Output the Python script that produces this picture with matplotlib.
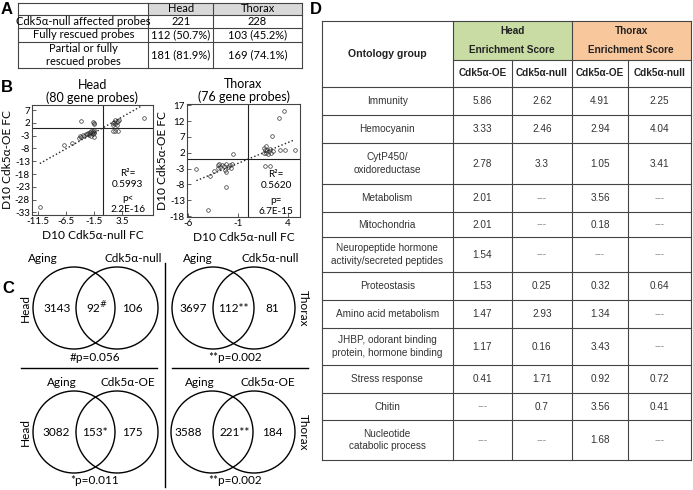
import numpy as np
import matplotlib.pyplot as plt
from matplotlib.patches import Circle, Rectangle

plt.rcParams['font.family'] = ['Lato', 'DejaVu Sans']

# ---- panel A data
a_cols = ['Head', 'Thorax']
a_rows = ['Cdk5α-null affected probes', 'Fully rescued probes', 'Partial or fully\nrescued probes']
a_head = ['221', '112 (50.7%)', '181 (81.9%)']
a_thorax = ['228', '103 (45.2%)', '169 (74.1%)']

# ---- panel B data (D10 fold changes)
head_x = [-3.9, -1.8, -1.5, -1.6,
          -4.0, -3.8, -3.5, -3.3, -3.0, -2.8, -2.6, -2.5, -2.3, -2.2, -2.0, -1.9,
          -1.8, -1.7, -1.6, -1.5, -1.5, -1.6, -2.0, -4.2,
          -6.9, -5.4, -11.2,
          1.8, 2.0, 2.2, 2.3, 2.5, 2.7, 2.9, 2.6, 1.9, 1.8, 2.3, 2.8, 7.4]
head_y = [2.6, 2.2, 1.9, 1.6,
          -3.2, -3.5, -2.8, -3.0, -2.5, -2.2, -1.8, -2.6, -1.5, -2.0, -1.2, -1.8,
          -2.4, -1.0, -1.5, -0.8, -2.0, -3.6, -3.3, -3.8,
          -6.5, -6.0, -31.0,
          2.0, 2.5, 1.5, 3.0, 2.2, 2.8, 3.3, 1.2, 1.0, -1.3, -1.3, -1.3, 3.9]
thorax_x = [3.6, 3.05, 2.4, 1.6, 1.7, 1.8, 1.9, 2.0, 2.1, 2.2, 1.6, 2.3, 1.8, 2.5,
            3.15, 3.65, 4.65, 1.7, 2.15, -1.5,
            -5.2, -3.0, -2.8, -2.6, -2.4, -2.2, -2.0, -1.8, -1.6, -1.7, -3.0, -2.9,
            -2.3, -2.2, -3.8, -3.4, -2.2, -4.0]
thorax_y = [15.2, 13.0, 7.3, 3.6, 2.8, 2.0, 3.0, 1.5, 2.4, 3.2, 1.8, 1.8, 4.1, 2.6,
            2.9, 2.9, 3.0, -2.2, -2.2, 1.6,
            -3.0, -2.0, -2.4, -1.8, -2.2, -1.6, -2.4, -2.0, -1.5, -2.7, -2.8, -1.5,
            -3.5, -4.1, -5.2, -3.9, -8.9, -16.1]
head_fit = (1.24, 0.0)     # slope, intercept
thorax_fit = (1.31, 0.0)
head_xticks = [-11.5, -6.5, -1.5, 3.5]
head_yticks = [7, 2, -3, -8, -13, -18, -23, -28, -33]
thorax_xticks = [-6, -1, 4]
thorax_yticks = [17, 12, 7, 2, -3, -8, -13, -18]
head_stats = ['R²=\n0.5993', 'p<\n2.2E-16']
thorax_stats = ['R²=\n0.5620', 'p=\n6.7E-15']

# ---- panel C data
venn_tissue = ['Head', 'Thorax', 'Head', 'Thorax']
venn_sets = [('Aging', 'Cdk5α-null'), ('Aging', 'Cdk5α-null'),
             ('Aging', 'Cdk5α-OE'), ('Aging', 'Cdk5α-OE')]
venn_counts = [(3143, 92, 106), (3697, 112, 81), (3082, 153, 175), (3588, 221, 184)]
venn_mark = [r'$^{\#}$', '**', '*', '**']
venn_p = ['#p=0.056', '**p=0.002', '*p=0.011', '**p=0.002']

# ---- panel D data
groups = ['Immunity', 'Hemocyanin', 'CytP450/\noxidoreductase', 'Metabolism', 'Mitochondria',
          'Neuropeptide hormone\nactivity/secreted peptides', 'Proteostasis',
          'Amino acid metabolism', 'JHBP, odorant binding\nprotein, hormone binding',
          'Stress response', 'Chitin', 'Nucleotide\ncatabolic process']
head_oe = [5.86, 3.33, 2.78, 2.01, 2.01, 1.54, 1.53, 1.47, 1.17, 0.41, None, None]
head_null = [2.62, 2.46, 3.3, None, None, None, 0.25, 2.93, 0.16, 1.71, 0.7, None]
thorax_oe = [4.91, 2.94, 1.05, 3.56, 0.18, None, 0.32, 1.34, 3.43, 0.92, 3.56, 1.68]
thorax_null = [2.25, 4.04, 3.41, None, None, None, 0.64, None, None, 0.72, 0.41, None]
d_sub = ['Cdk5α-OE', 'Cdk5α-null', 'Cdk5α-OE', 'Cdk5α-null']

W, H = 693, 490
fig = plt.figure(figsize=(W / 100, H / 100), dpi=100)
ov = fig.add_axes([0, 0, 1, 1])
ov.set_xlim(0, W)
ov.set_ylim(H, 0)
ov.axis('off')

lc = '#444444'
arial = ['Liberation Sans', 'DejaVu Sans']

# panel letters
for lab, (x, y) in zip('ABCD', [(7, 9), (7, 88), (8, 288), (316, 9)]):
    ov.text(x, y, lab, fontsize=12, fontweight='bold', family=arial, ha='center', va='center')

# ---------- A: table
ax_cols = [18.3, 148.3, 213.3, 301.7]
ax_rows = [2.7, 15, 28.3, 41.7, 68.3]
ov.add_patch(Rectangle((ax_cols[1], ax_rows[0]), ax_cols[3] - ax_cols[1], ax_rows[1] - ax_rows[0],
                       facecolor='#d9d9d9', edgecolor='none'))
for y in ax_rows:
    ov.plot([ax_cols[0], ax_cols[-1]], [y, y], color=lc, lw=0.8)
for x in ax_cols:
    ov.plot([x, x], [ax_rows[0], ax_rows[-1]], color=lc, lw=0.8)
fs_a = 8
for j, c in enumerate(a_cols):
    ov.text((ax_cols[j + 1] + ax_cols[j + 2]) / 2, (ax_rows[0] + ax_rows[1]) / 2, c,
            fontsize=fs_a, ha='center', va='center')
for i, r in enumerate(a_rows):
    yc = (ax_rows[i + 1] + ax_rows[i + 2]) / 2
    ov.text((ax_cols[0] + ax_cols[1]) / 2, yc, r, fontsize=fs_a, ha='center', va='center',
            linespacing=1.25)
    ov.text((ax_cols[1] + ax_cols[2]) / 2, yc, a_head[i], fontsize=fs_a, ha='center', va='center')
    ov.text((ax_cols[2] + ax_cols[3]) / 2, yc, a_thorax[i], fontsize=fs_a, ha='center', va='center')

# ---------- B: scatter plots
def scatter_panel(box, xs, ys, fit, xlim, ylim, xt, yt, title, stats):
    l, r, t, b = box
    ax = fig.add_axes([l / W, 1 - b / H, (r - l) / W, (b - t) / H])
    ax.plot(xs, ys, 'o', mfc='none', mec='#333333', ms=2.6, mew=0.5)
    xx = np.array([min(xs), max(xs)])
    ax.plot(xx, fit[0] * xx + fit[1], ':', color='#222222', lw=1.0)
    ax.axhline(0, color='#222222', lw=0.8)
    ax.axvline(0, color='#222222', lw=0.8)
    ax.set_xlim(xlim)
    ax.set_ylim(ylim)
    ax.set_xticks(xt)
    ax.set_yticks(yt)
    ax.set_xticklabels([f'{v:g}' for v in xt])
    ax.set_yticklabels([f'{v:g}' for v in yt])
    ax.tick_params(direction='in', length=3, width=0.6, labelsize=7, pad=1.5, color=lc)
    for s in ax.spines.values():
        s.set_color(lc)
        s.set_linewidth(0.8)
    ax.set_title(title, fontsize=9, pad=2, linespacing=1.1)
    ax.set_xlabel('D10 Cdk5α-null FC', fontsize=8.6, labelpad=3)
    ax.set_ylabel('D10 Cdk5α-OE FC', fontsize=8.6, labelpad=1)
    ax.text(0.79, 0.33, stats[0], transform=ax.transAxes, fontsize=7.2, ha='center',
            va='center', linespacing=1.3)
    ax.text(0.79, 0.1, stats[1], transform=ax.transAxes, fontsize=7.2, ha='center',
            va='center', linespacing=1.3)
    return ax

scatter_panel((32, 153, 105, 215), head_x, head_y, head_fit, (-12.6, 9.0), (-34, 9),
              head_xticks, head_yticks, 'Head\n(80 gene probes)', head_stats)
scatter_panel((187, 300, 104, 217), thorax_x, thorax_y, thorax_fit, (-6.15, 5.2), (-18.3, 17.4),
              thorax_xticks, thorax_yticks, 'Thorax\n(76 gene probes)', thorax_stats)

# ---------- C: Venn diagrams
rad = 41
venn_pos = [(74, 117, 308), (213, 254, 308), (74, 117, 432), (212, 254, 432)]
lab_x = [(43, 133), (198, 270), (62, 128), (200, 268)]
lab_y = [258, 258, 382, 382]
num_x = [(57, 97, 132), (193, 233, 272), (56, 95, 132), (188, 235, 272)]
p_x = [95, 235, 95, 235]
p_y = [357, 357, 480, 480]
side_x = [25, 303, 25, 303]
fs_c = 8.5
for k in range(4):
    cl, cr, cy = venn_pos[k]
    ov.add_patch(Circle((cl, cy), rad, fill=False, edgecolor='black', lw=1.0))
    ov.add_patch(Circle((cr, cy), rad, fill=False, edgecolor='black', lw=1.0))
    ov.text(lab_x[k][0], lab_y[k], venn_sets[k][0], fontsize=fs_c, ha='center', va='center')
    ov.text(lab_x[k][1], lab_y[k], venn_sets[k][1], fontsize=fs_c, ha='center', va='center')
    a, both, b = venn_counts[k]
    ov.text(num_x[k][0], cy, str(a), fontsize=fs_c, ha='center', va='center')
    ov.text(num_x[k][1], cy, f'{both}{venn_mark[k]}', fontsize=fs_c, ha='center', va='center')
    ov.text(num_x[k][2], cy, str(b), fontsize=fs_c, ha='center', va='center')
    ov.text(p_x[k], p_y[k], venn_p[k], fontsize=fs_c, ha='center', va='center')
    rot = 90 if venn_tissue[k] == 'Head' else 270
    ov.text(side_x[k], cy, venn_tissue[k], fontsize=fs_c, rotation=rot, ha='center', va='center')
ov.plot([164.5, 164.5], [263, 487], color='black', lw=1.0)
ov.plot([21, 157], [368, 368], color='black', lw=1.0)
ov.plot([172, 308], [368, 368], color='black', lw=1.0)

# ---------- D: enrichment table
dc = [321.7, 452.7, 512, 571.7, 628.3, 690.7]
d_top, d_mid, d_head = 20.7, 60, 87
d_rows = [87, 115, 143, 184, 212, 237, 272, 300, 328, 365, 393, 420, 460]
ov.add_patch(Rectangle((dc[1], d_top), dc[3] - dc[1], d_mid - d_top, facecolor='#c8dca4', edgecolor='none'))
ov.add_patch(Rectangle((dc[3], d_top), dc[5] - dc[3], d_mid - d_top, facecolor='#f9c79c', edgecolor='none'))
for x in [dc[0], dc[1], dc[3], dc[5]]:
    ov.plot([x, x], [d_top, d_rows[-1]], color=lc, lw=0.8)
for x in [dc[2], dc[4]]:
    ov.plot([x, x], [d_mid, d_rows[-1]], color=lc, lw=0.8)
ov.plot([dc[0], dc[5]], [d_top, d_top], color=lc, lw=0.8)
ov.plot([dc[1], dc[5]], [d_mid, d_mid], color=lc, lw=0.8)
for y in d_rows:
    ov.plot([dc[0], dc[5]], [y, y], color=lc, lw=0.8)

fs_d = 7.2
ov.text((dc[0] + dc[1]) / 2, (d_top + d_head) / 2, 'Ontology group', fontsize=fs_d + 0.4,
        fontweight='bold', family=arial, ha='center', va='center', color='#222222')
for j, t in enumerate(['Head', 'Thorax']):
    xc = (dc[1 + 2 * j] + dc[3 + 2 * j]) / 2
    ov.text(xc, 31, t, fontsize=fs_d, fontweight='bold', family=arial, ha='center', va='center', color='#222222')
    ov.text(xc, 50, 'Enrichment Score', fontsize=fs_d, fontweight='bold', family=arial,
            ha='center', va='center', color='#222222')
cols_vals = [head_oe, head_null, thorax_oe, thorax_null]
for j in range(4):
    xc = (dc[j + 1] + dc[j + 2]) / 2
    ov.text(xc, (d_mid + d_head) / 2, d_sub[j], fontsize=fs_d, fontweight='bold', family=arial,
            ha='center', va='center', color='#222222')
    for i, v in enumerate(cols_vals[j]):
        yc = (d_rows[i] + d_rows[i + 1]) / 2
        if v is None:
            ov.text(xc, yc, '---', fontsize=fs_d, family=arial, ha='center', va='center', color='#888888')
        else:
            ov.text(xc, yc, str(v), fontsize=fs_d, family=arial, ha='center', va='center', color='#333333')
for i, g in enumerate(groups):
    yc = (d_rows[i] + d_rows[i + 1]) / 2
    ov.text((dc[0] + dc[1]) / 2, yc, g, fontsize=fs_d, family=arial, ha='center', va='center',
            color='#333333', linespacing=1.35)

fig.savefig('out.png', dpi=100)
